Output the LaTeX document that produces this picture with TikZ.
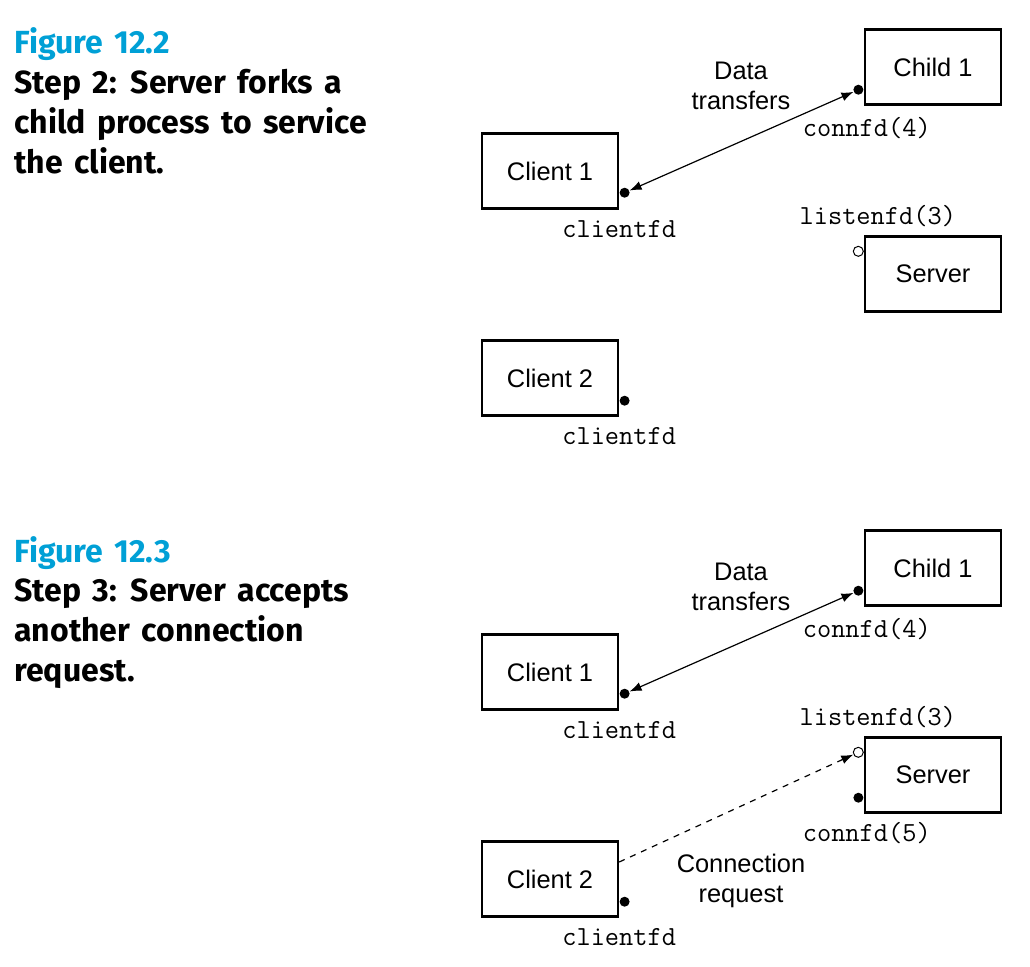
\documentclass[tikz,border=0pt]{standalone}
\usepackage{fontspec}
\setmainfont{Liberation Sans}
\newfontfamily\headfont{Fira Sans}[WordSpace=1.5]
\usetikzlibrary{positioning,arrows.meta}
\definecolor{figblue}{RGB}{0,160,214}

\def \boxW{68pt}
\def \boxH{37.5pt}
\def \clientX{550}
\def \serverX{933}
\def \capX{14}

\tikzset{
  proc/.style={draw, line width=1.2pt, minimum width=\boxW, minimum height=\boxH, inner sep=0pt, font=\fontsize{12.7}{15}\selectfont},
  fd/.style={circle, fill, inner sep=0pt, minimum size=5pt},
  fdopen/.style={circle, draw, fill=white, line width=0.5pt, inner sep=0pt, minimum size=5pt},
  fdlabel/.style={inner sep=0pt, font=\ttfamily\fontsize{13.8}{15}\selectfont},
  msg/.style={align=center, inner sep=0pt, font=\fontsize{12.7}{15}\selectfont},
  link/.style={line width=0.6pt},
  caption/.style={anchor=base west, align=left, inner sep=0pt, font=\headfont\bfseries\fontsize{16}{20}\selectfont}
}

\begin{document}
\begin{tikzpicture}[x=0.5pt, y=-0.5pt, >={Latex[length=6pt,width=4.5pt]}]
\useasboundingbox (0,0) rectangle (1030,966);

% ---- Figure 12.2 (base anchor = last line)
\node[caption, text=figblue] (capA) at (\capX, 53) {Figure 12.2};
\node[caption] (stepA) at (\capX, 173) {Step 2: Server forks a\\child process to service\\the client.};

% ---- boxes
\node[proc] (childA) at (\serverX, 67) {Child 1};
\node[proc] (clientA) at (\clientX, 171) {Client 1};
\node[proc] (serverA) at (\serverX, 274) {Server};
\node[proc] (clientB) at (\clientX, 378) {Client 2};

% ---- descriptors
\node[fd, anchor=east] (childAfd) at ([yshift=8pt]childA.south west) {};
\node[fd, anchor=west] (clientAfd) at ([yshift=8.5pt]clientA.south east) {};
\node[fdopen, anchor=east] (serverAlisten) at ([yshift=-8pt]serverA.north west) {};
\node[fd, anchor=west] (clientBfd) at ([yshift=8pt]clientB.south east) {};

\node[fdlabel, below=5.5pt of childA.south west, xshift=1.5pt] (childAlabel) {connfd(4)};
\node[fdlabel, below=5pt of clientA.south east] (clientAlabel) {clientfd};
\node[fdlabel, above=4pt of serverA.north west, xshift=7pt] (serverAlabel) {listenfd(3)};
\node[fdlabel, below=5pt of clientB.south east] (clientBlabel) {clientfd};

% ---- transfer
\draw[link, <->] (clientAfd) -- (childAfd);
\node[msg] (dataA) at (741, 86) {Data\\transfers};

% ---- Figure 12.3
\node[caption, text=figblue] (capB) at (\capX, 562) {Figure 12.3};
\node[caption] (stepB) at (\capX, 681) {Step 3: Server accepts\\another connection\\request.};

% ---- boxes
\node[proc] (childC) at (\serverX, 568) {Child 1};
\node[proc] (clientC) at (\clientX, 672) {Client 1};
\node[proc] (serverC) at (\serverX, 775) {Server};
\node[proc] (clientD) at (\clientX, 879) {Client 2};

% ---- descriptors
\node[fd, anchor=east] (childCfd) at ([yshift=8pt]childC.south west) {};
\node[fd, anchor=west] (clientCfd) at ([yshift=8.5pt]clientC.south east) {};
\node[fdopen, anchor=east] (serverClisten) at ([yshift=-8pt]serverC.north west) {};
\node[fd, anchor=east] (serverCfd) at ([yshift=8pt]serverC.south west) {};
\node[fd, anchor=west] (clientDfd) at ([yshift=8pt]clientD.south east) {};

\node[fdlabel, below=5.5pt of childC.south west, xshift=1.5pt] (childClabel) {connfd(4)};
\node[fdlabel, below=5pt of clientC.south east] (clientClabel) {clientfd};
\node[fdlabel, above=4pt of serverC.north west, xshift=7pt] (serverClabel) {listenfd(3)};
\node[fdlabel, below=4pt of serverC.south west, xshift=1.5pt] (serverCconn) {connfd(5)};
\node[fdlabel, below=5pt of clientD.south east] (clientDlabel) {clientfd};

% ---- transfer and request
\draw[link, <->] (clientCfd) -- (childCfd);
\node[msg] (dataC) at (741, 587) {Data\\transfers};
\draw[link, dashed, ->] ([yshift=8.5pt]clientD.east) -- (serverClisten);
\node[msg] (request) at (741, 881) {Connection\\request};
\end{tikzpicture}
\end{document}
